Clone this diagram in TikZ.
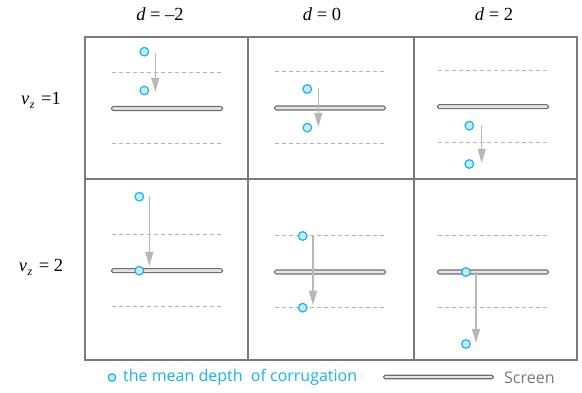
\documentclass[tikz,border=0pt]{standalone}
\usepackage{fontspec}
\newfontfamily\legfont{Open Sans}
\newfontfamily\tms{Liberation Serif}
\usetikzlibrary{arrows.meta}
\definecolor{cyanc}{HTML}{1CB0EC}
\definecolor{cyanf}{HTML}{C6ECFA}
\definecolor{gridc}{HTML}{7A7A7A}
\definecolor{dashc}{HTML}{B5B5B5}
\definecolor{arrc}{HTML}{B8B8B8}
\definecolor{scrc}{HTML}{6E6E6E}
\definecolor{scrf}{HTML}{E4E4E4}
\tikzset{
  gridline/.style={draw=gridc,line width=1.6pt},
  dline/.style={draw=dashc,line width=1pt,dash pattern=on 4pt off 3pt},
  depth/.style={circle,draw=cyanc,fill=cyanf,line width=1.2pt,minimum size=8.6pt,inner sep=0pt},
  move/.style={draw=arrc,line width=1.4pt,-{Triangle[length=14pt,width=8pt]},shorten >=0pt},
  screenbar/.style={draw=scrc,fill=scrf,line width=1.1pt,rounded corners=1.6pt,minimum height=4pt,inner sep=0pt},
  hdr/.style={font=\tms\fontsize{18.5}{20}\selectfont},
  legtext/.style={anchor=west,font=\legfont\fontsize{16}{18}\selectfont,inner sep=0pt},
}
\begin{document}
\begin{tikzpicture}[x=1pt,y=-1pt]
\useasboundingbox (0,0) rectangle (582,393);
% grid
\draw[gridline] (85,37) rectangle (577,360);
\draw[gridline] (248,37) -- (248,360);
\draw[gridline] (414,37) -- (414,360);
\draw[gridline] (85,179) -- (577,179);
% headers
\node[hdr] (h1) at (160,14) {\textit{d} = –2};
\node[hdr] (h2) at (322,14) {\textit{d} = 0};
\node[hdr] (h3) at (494,14) {\textit{d} = 2};
\node[hdr] (r1) at (41,100) {\textit{v}\kern0.5pt\raisebox{-4pt}{\fontsize{12}{12}\selectfont\textit{z}}\kern2pt\ =1};
\node[hdr] (r2) at (41,267) {\textit{v}\kern0.5pt\raisebox{-4pt}{\fontsize{12}{12}\selectfont\textit{z}}\kern2pt\ = 2};
% ---- row 1 col 1
\draw[dline] (112,72.5) -- (222,72.5);
\draw[dline] (112,144) -- (222,144);
\node[screenbar,minimum width=111pt] (s11) at (167,108.5) {};
\node[depth] (c11a) at (144.3,51.7) {};
\node[depth] (c11b) at (144.3,90.5) {};
\coordinate (a11s) at (155.3,53);
\coordinate (a11e) at (155.3,92);
\draw[move] (a11s) -- (a11e);
% ---- row 1 col 2
\draw[dline] (275,72) -- (385,72);
\draw[dline] (275,144) -- (385,144);
\node[screenbar,minimum width=111pt] (s12) at (330,108) {};
\node[depth] (c12a) at (307.3,89) {};
\node[depth] (c12b) at (307.3,127.7) {};
\coordinate (a12s) at (318.3,88.3);
\coordinate (a12e) at (318.3,127);
\draw[move] (a12s) -- (a12e);
% ---- row 1 col 3
\draw[dline] (438,71) -- (548,71);
\draw[dline] (438,142.7) -- (548,142.7);
\node[screenbar,minimum width=111pt] (s13) at (493,106.7) {};
\node[depth] (c13a) at (469.3,125.7) {};
\node[depth] (c13b) at (469.3,164) {};
\coordinate (a13s) at (481.7,125);
\coordinate (a13e) at (481.7,163);
\draw[move] (a13s) -- (a13e);
% ---- row 2 col 1
\draw[dline] (112,235) -- (222,235);
\draw[dline] (112,306.7) -- (222,306.7);
\node[screenbar,minimum width=111pt] (s21) at (167,270.7) {};
\node[depth] (c21a) at (139.3,196.7) {};
\coordinate (a21s) at (149.3,196);
\coordinate (a21e) at (149.3,266);
\draw[move] (a21s) -- (a21e);
\node[depth] (c21b) at (139.3,270.7) {};
% ---- row 2 col 2
\draw[dline] (275,236) -- (385,236);
\draw[dline] (275,307.7) -- (385,307.7);
\node[screenbar,minimum width=111pt] (s22) at (330,272) {};
\coordinate (a22s) at (313,236);
\coordinate (a22e) at (313,305);
\draw[move] (a22s) -- (a22e);
\node[depth] (c22a) at (302.7,236) {};
\node[depth] (c22b) at (302.7,307.7) {};
% ---- row 2 col 3
\draw[dline] (438,236) -- (548,236);
\draw[dline] (438,307.7) -- (548,307.7);
\node[screenbar,minimum width=111pt] (s23) at (493,272) {};
\coordinate (a23s) at (476,272);
\coordinate (a23e) at (476,343);
\draw[move] (a23s) -- (a23e);
\node[depth] (c23a) at (466,272) {};
\node[depth] (c23b) at (466,344) {};
% ---- legend
\node[depth,minimum size=7.5pt] (lc) at (112,377.5) {};
\node[legtext,text=cyanc] (lt) at (123,377.5) {the mean depth\ \ of corrugation};
\node[screenbar,minimum width=110pt,minimum height=3.5pt] (ls) at (438.5,377) {};
\node[legtext,text=gridc] (lst) at (504,377.5) {Screen};
\end{tikzpicture}
\end{document}
